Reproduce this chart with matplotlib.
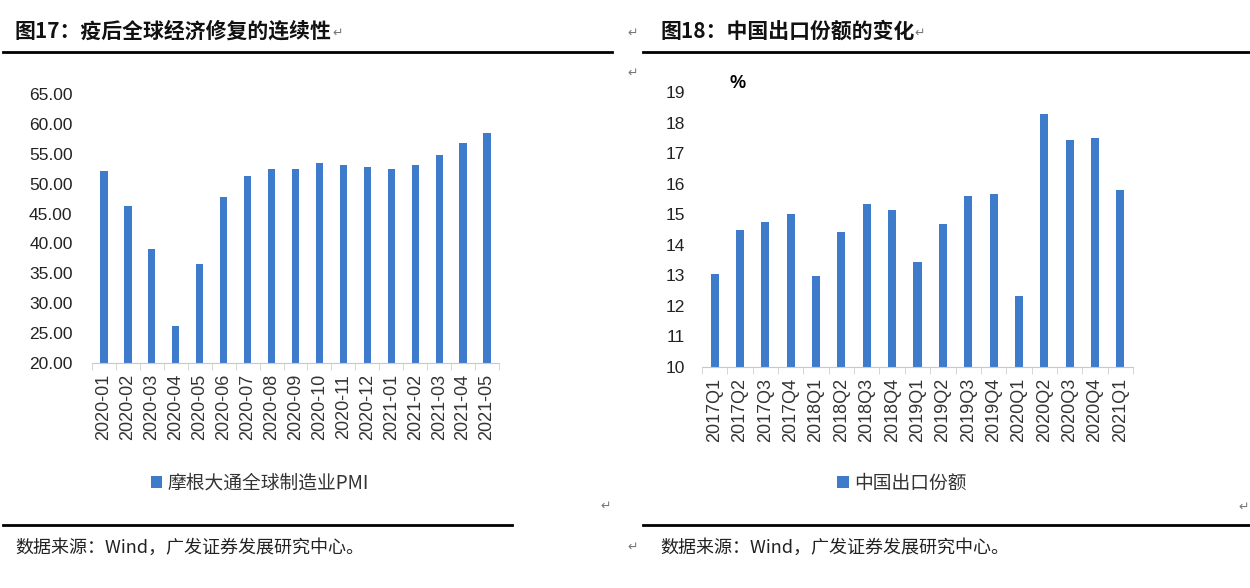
import numpy as np
import matplotlib
matplotlib.use('Agg')
import matplotlib.pyplot as plt

plt.rcParams['font.family'] = ['Liberation Sans', 'Noto Sans CJK SC', 'DejaVu Sans']

# left panel data
pmi_months = ['2020-01', '2020-02', '2020-03', '2020-04', '2020-05', '2020-06',
              '2020-07', '2020-08', '2020-09', '2020-10', '2020-11', '2020-12',
              '2021-01', '2021-02', '2021-03', '2021-04', '2021-05']
pmi_values = [52.2, 46.2, 39.1, 26.2, 36.5, 47.8, 51.2, 52.5, 52.5, 53.5,
              53.2, 52.8, 52.5, 53.2, 54.8, 56.8, 58.5]
pmi_yticks = [20, 25, 30, 35, 40, 45, 50, 55, 60, 65]

# right panel data
share_quarters = ['2017Q1', '2017Q2', '2017Q3', '2017Q4', '2018Q1', '2018Q2',
                  '2018Q3', '2018Q4', '2019Q1', '2019Q2', '2019Q3', '2019Q4',
                  '2020Q1', '2020Q2', '2020Q3', '2020Q4', '2021Q1']
share_values = [13.03, 14.47, 14.73, 15.0, 12.97, 14.41, 15.32, 15.13, 13.43,
                14.67, 15.59, 15.65, 12.31, 18.27, 17.42, 17.48, 15.78]
share_yticks = list(range(10, 20))

BLUE = '#3F7BCB'
W, H = 1250, 588
CJK = ['Noto Sans CJK SC', 'DejaVu Sans']

fig = plt.figure(figsize=(W / 100, H / 100), dpi=100)
fig.patch.set_facecolor('white')


def px(x, y):
    return x / W, 1 - y / H


def box(l, t, r, b):
    return [l / W, 1 - b / H, (r - l) / W, (b - t) / H]


def style_axis(ax, labels, ylim, yticks, fmt):
    x = np.arange(len(labels))
    ax.set_xlim(-0.5, len(labels) - 0.5)
    ax.set_ylim(*ylim)
    ax.set_yticks(yticks)
    ax.set_yticklabels([fmt.format(v) for v in yticks], fontsize=12.5, color='#222222')
    ax.set_xticks(x)
    ax.set_xticklabels(labels, rotation=90, fontsize=13, color='#333333')
    ax.set_xticks(np.arange(len(labels) + 1) - 0.5, minor=True)
    ax.tick_params(axis='x', which='major', length=0, pad=8)
    ax.tick_params(axis='x', which='minor', length=5, color='#D0D0D0')
    ax.tick_params(axis='y', length=0, pad=14)
    for s in ['top', 'right', 'left']:
        ax.spines[s].set_visible(False)
    ax.spines['bottom'].set_color('#C8C8C8')
    ax.set_facecolor('white')


# left chart
ax1 = fig.add_axes(box(92, 94, 499, 363))
b1 = ax1.bar(np.arange(len(pmi_months)), pmi_values, width=0.3, color=BLUE,
             label='摩根大通全球制造业PMI')
style_axis(ax1, pmi_months, (20, 65), pmi_yticks, '{:.2f}')
leg1 = ax1.legend(handles=[b1], loc='center', bbox_to_anchor=px(260, 483),
                  bbox_transform=fig.transFigure, frameon=False, fontsize=13.5,
                  handlelength=0.6, handleheight=0.6, handletextpad=0.3)
for t in leg1.get_texts():
    t.set_family(CJK)
    t.set_color('#333333')

# right chart
ax2 = fig.add_axes(box(702, 92, 1133, 367))
b2 = ax2.bar(np.arange(len(share_quarters)), share_values, width=0.32, color=BLUE,
             label='中国出口份额')
style_axis(ax2, share_quarters, (10, 19), share_yticks, '{:d}')
ax2.tick_params(axis='y', pad=12)
leg2 = ax2.legend(handles=[b2], loc='center', bbox_to_anchor=px(902, 483),
                  bbox_transform=fig.transFigure, frameon=False, fontsize=13.5,
                  handlelength=0.6, handleheight=0.6, handletextpad=0.3)
for t in leg2.get_texts():
    t.set_family(CJK)
    t.set_color('#333333')
fig.text(*px(730, 83), '%', fontsize=13, fontweight='bold', ha='left', va='center')

# titles, rules and footers
fig.text(*px(15, 31), '图17：疫后全球经济修复的连续性', fontsize=15, fontweight='bold',
         family=CJK, ha='left', va='center', color='#111111')
fig.text(*px(660, 31), '图18：中国出口份额的变化', fontsize=15, fontweight='bold',
         family=CJK, ha='left', va='center', color='#111111')
for x0, x1 in [(3, 612), (643, 1250)]:
    fig.add_artist(plt.Line2D([x0 / W, x1 / W], [1 - 52 / H] * 2, color='black', lw=2))
for x0, x1 in [(3, 512), (643, 1250)]:
    fig.add_artist(plt.Line2D([x0 / W, x1 / W], [1 - 525 / H] * 2, color='black', lw=2))
fig.text(*px(15, 548), '数据来源：Wind，广发证券发展研究中心。', fontsize=13,
         family=CJK, ha='left', va='center', color='#222222')
fig.text(*px(660, 548), '数据来源：Wind，广发证券发展研究中心。', fontsize=13,
         family=CJK, ha='left', va='center', color='#222222')

# word paragraph marks
for (x, y) in [(338, 33), (633, 33), (920, 33), (633, 73), (606, 506), (1244, 507), (633, 547)]:
    fig.text(*px(x, y), '↵', fontsize=9, color='#777777', ha='center', va='center',
             family='DejaVu Sans')

fig.savefig('out.png', dpi=100, facecolor='white')
